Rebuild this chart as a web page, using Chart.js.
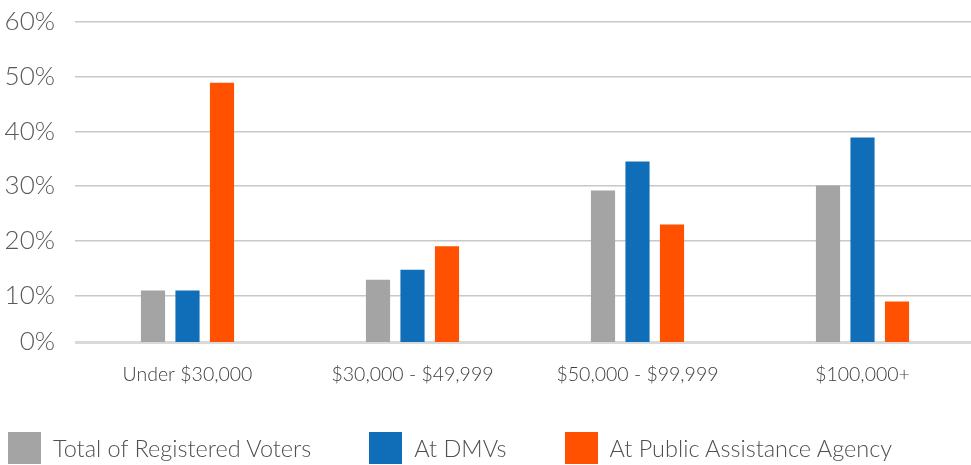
<!DOCTYPE html>
<html>
<head>
<meta charset="utf-8">
<script src="https://cdn.jsdelivr.net/npm/chart.js@4/dist/chart.umd.min.js"></script>
<style>
  html, body { margin: 0; padding: 0; overflow: hidden; background: #fff; width: 971px; height: 465px; }
  #wrap { position: relative; width: 975px; height: 465px; }
  #legend { position: absolute; left: 8px; top: 432px; display: flex; align-items: center;
            font-family: Lato, "Open Sans", sans-serif; font-weight: 300; font-size: 23.5px; color: #505050; }
  .item { display: flex; align-items: center; margin-right: 58px; }
  .box { width: 33px; height: 32px; margin-right: 12px; }
</style>
</head>
<body>
<div id="wrap">
  <canvas id="c"></canvas>
  <div id="legend"></div>
</div>
<script>
const categories = ["Under $30,000", "$30,000 - $49,999", "$50,000 - $99,999", "$100,000+"];
const seriesNames = ["Total of Registered Voters", "At DMVs", "At Public Assistance Agency"];
const totalRegistered = [10.9, 12.9, 29.2, 30.1];
const atDMVs = [10.9, 14.7, 34.5, 38.9];
const atPublicAssistance = [48.9, 19.0, 23.0, 8.9];
const tickValues = [1.5, 10, 20, 30, 40, 50, 60];
const tickLabels = ["0%", "10%", "20%", "30%", "40%", "50%", "60%"];
const colors = ["#A3A4A3", "#106EB8", "#FF5100"];

const values = [totalRegistered, atDMVs, atPublicAssistance];
const datasets = seriesNames.map((name, i) => ({
  label: name,
  data: values[i],
  backgroundColor: colors[i],
  borderWidth: 0,
  categoryPercentage: 0.46,
  barPercentage: 0.7
}));

const legend = document.getElementById('legend');
seriesNames.forEach((name, i) => {
  const it = document.createElement('div');
  it.className = 'item';
  const b = document.createElement('div');
  b.className = 'box';
  b.style.background = colors[i];
  const t = document.createElement('span');
  t.textContent = name;
  it.appendChild(b); it.appendChild(t);
  legend.appendChild(it);
});

new Chart(document.getElementById('c'), {
  type: 'bar',
  data: { labels: categories, datasets },
  options: {
    responsive: true,
    maintainAspectRatio: false,
    animation: false,
    layout: { padding: { top: 22, right: 0, bottom: 0, left: 0 } },
    plugins: { legend: { display: false }, tooltip: { enabled: false } },
    scales: {
      x: {
        grid: { display: false },
        border: { display: false },
        ticks: { color: '#404040', font: { family: 'Lato', size: 19.5, weight: '300' }, padding: 13 },
        afterFit: (s) => { s.height = 123; s.paddingTop = 0; s.paddingBottom = 0; }
      },
      y: {
        min: tickValues[0],
        max: 60,
        afterBuildTicks: (s) => { s.ticks = tickValues.map(v => ({ value: v })); },
        grid: {
          color: (ctx) => ctx.index === 0 ? '#D9D9D9' : '#C8C8C8',
          lineWidth: (ctx) => ctx.index === 0 ? 3 : 1.5,
          drawTicks: false
        },
        border: { display: false },
        ticks: {
          color: '#595959',
          font: { family: 'Lato', size: 26, weight: '300' },
          padding: 20,
          callback: (v, i) => tickLabels[i]
        },
        afterFit: (s) => { s.width = 75; s.paddingTop = 0; s.paddingBottom = 0; }
      }
    }
  }
});
</script>
</body>
</html>
